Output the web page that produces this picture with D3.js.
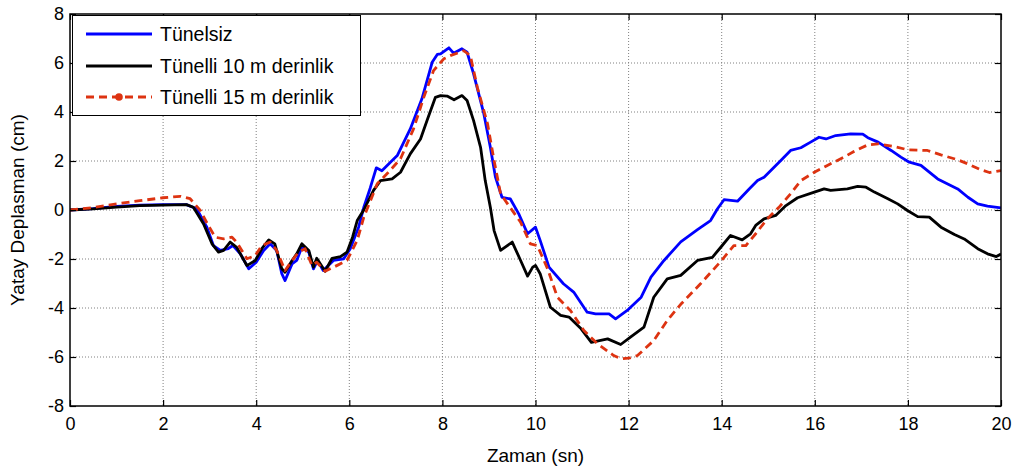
<!DOCTYPE html>
<html><head><meta charset="utf-8">
<script src="https://cdn.jsdelivr.net/npm/d3@7"></script>
<style>body{margin:0;background:#fff} svg{display:block}</style>
</head><body><svg id="c" width="1016" height="470"></svg>
<script>
const xTicks=[0,2,4,6,8,10,12,14,16,18,20];
const yTicks=[-8,-6,-4,-2,0,2,4,6,8];
const seriesNames=["Tünelsiz","Tünelli 10 m derinlik","Tünelli 15 m derinlik"];
const xLabel="Zaman (sn)";
const yLabel="Yatay Deplasman (cm)";

const tBlue=[0,0.5,1,1.5,2,2.5,2.72,2.94,3.08,3.23,3.4,3.5,3.66,3.84,4.0,4.16,4.3,4.44,4.55,4.62,4.77,4.87,4.98,5.13,5.23,5.32,5.44,5.66,5.88,6.02,6.2,6.31,6.45,6.58,6.7,7.03,7.31,7.56,7.78,7.89,7.96,8.14,8.24,8.42,8.53,8.67,8.89,9.03,9.14,9.28,9.46,9.64,9.83,10.0,10.1,10.29,10.6,10.82,11.11,11.29,11.58,11.72,11.97,12.27,12.48,12.76,13.12,13.48,13.76,13.91,14.05,14.34,14.59,14.77,14.91,15.27,15.48,15.7,15.91,16.09,16.24,16.45,16.77,17.03,17.14,17.36,17.64,17.85,18.03,18.28,18.64,19.07,19.29,19.5,19.71,20.0];
const vBlue=[0,0.06,0.15,0.2,0.22,0.22,0.05,-0.7,-1.45,-1.65,-1.58,-1.45,-1.79,-2.4,-2.13,-1.65,-1.38,-1.65,-2.6,-2.88,-2.2,-2.06,-1.52,-1.72,-2.4,-2.06,-2.47,-2.06,-1.99,-1.58,-0.7,0.1,0.9,1.72,1.6,2.22,3.31,4.54,6.03,6.35,6.37,6.62,6.4,6.58,6.44,5.56,3.93,2.56,1.34,0.52,0.45,-0.16,-0.97,-0.7,-1.24,-2.33,-3.01,-3.35,-4.17,-4.24,-4.24,-4.44,-4.1,-3.56,-2.74,-2.06,-1.3,-0.8,-0.43,0.05,0.42,0.36,0.86,1.2,1.34,2.02,2.43,2.54,2.77,2.97,2.9,3.04,3.11,3.1,2.95,2.77,2.43,2.16,1.95,1.82,1.27,0.86,0.52,0.25,0.16,0.09];

const tBlack=[0,0.5,1,1.5,2,2.5,2.65,2.87,3.05,3.19,3.3,3.44,3.58,3.8,3.98,4.12,4.27,4.4,4.55,4.62,4.77,4.87,4.98,5.13,5.23,5.3,5.48,5.63,5.81,5.95,6.07,6.17,6.31,6.52,6.67,6.92,7.1,7.31,7.53,7.67,7.85,7.96,8.1,8.25,8.42,8.53,8.67,8.82,8.92,9.03,9.11,9.25,9.5,9.68,9.83,9.94,10.0,10.1,10.32,10.54,10.72,10.98,11.2,11.55,11.83,12.04,12.33,12.54,12.83,13.12,13.48,13.8,13.98,14.19,14.44,14.62,14.73,14.91,15.16,15.38,15.63,15.99,16.2,16.34,16.7,16.92,17.1,17.28,17.57,17.78,17.99,18.21,18.46,18.71,19.0,19.21,19.5,19.71,19.9,20.0];
const vBlack=[0,0.05,0.12,0.18,0.2,0.22,0.11,-0.57,-1.38,-1.72,-1.65,-1.31,-1.52,-2.27,-2.06,-1.58,-1.22,-1.38,-2.4,-2.54,-2.06,-1.79,-1.38,-1.65,-2.33,-1.97,-2.5,-1.97,-1.9,-1.72,-1.11,-0.43,0,0.8,1.2,1.27,1.54,2.29,2.9,3.65,4.6,4.67,4.65,4.5,4.67,4.47,3.65,2.56,1.2,0.11,-0.84,-1.65,-1.31,-2.06,-2.7,-2.33,-2.26,-2.6,-3.97,-4.3,-4.37,-4.85,-5.4,-5.26,-5.49,-5.19,-4.78,-3.56,-2.81,-2.67,-2.06,-1.93,-1.52,-1.04,-1.22,-0.97,-0.63,-0.36,-0.22,0.18,0.5,0.73,0.86,0.8,0.86,0.96,0.93,0.73,0.46,0.25,-0.02,-0.27,-0.29,-0.7,-1.0,-1.18,-1.58,-1.79,-1.9,-1.8];

const tRed=[0,0.5,1,1.5,2,2.37,2.58,2.8,2.97,3.12,3.3,3.48,3.58,3.8,3.98,4.12,4.3,4.44,4.62,4.77,4.91,5.05,5.2,5.3,5.48,5.73,5.95,6.17,6.31,6.6,6.84,7.1,7.38,7.6,7.81,8.03,8.17,8.46,8.6,8.75,8.97,9.11,9.25,9.4,9.68,9.89,10.04,10.26,10.47,10.75,11.04,11.33,11.68,11.83,12.0,12.19,12.54,12.83,13.12,13.55,13.98,14.26,14.52,14.73,14.98,15.23,15.48,15.7,15.99,16.27,16.63,16.85,17.14,17.36,17.71,17.99,18.42,18.71,19.07,19.29,19.57,19.75,20.0];
const vRed=[0,0.1,0.25,0.38,0.5,0.56,0.46,-0.02,-0.63,-1.11,-1.18,-1.11,-1.31,-1.99,-1.86,-1.45,-1.31,-1.65,-2.47,-2.06,-1.72,-1.58,-2.27,-2.13,-2.5,-2.27,-2.06,-1.24,-0.3,1.07,1.54,2.09,3.31,4.6,5.69,6.17,6.3,6.5,6.3,5.01,3.52,2.02,0.66,0.25,-0.5,-1.38,-1.45,-2.4,-3.56,-4.1,-4.92,-5.46,-5.94,-6.07,-6.05,-5.94,-5.33,-4.51,-3.85,-3.0,-2.1,-1.45,-1.45,-0.97,-0.36,0.11,0.66,1.2,1.54,1.82,2.16,2.4,2.66,2.7,2.59,2.46,2.43,2.25,2.05,1.88,1.64,1.53,1.61];

const colors=["#0000ff","#000000","#dd3311"];
const series=[
  {name:seriesNames[0],t:tBlue,v:vBlue,color:colors[0],dash:null},
  {name:seriesNames[1],t:tBlack,v:vBlack,color:colors[1],dash:null},
  {name:seriesNames[2],t:tRed,v:vRed,color:colors[2],dash:"8,5"}
];

const svg=d3.select("#c");
const L=70,R=1001,T=14,B=406;
const x=d3.scaleLinear().domain([0,20]).range([L,R]);
const y=d3.scaleLinear().domain([-8,8]).range([B,T]);
const font="'Liberation Sans', Arial, sans-serif";
const fmt=d=>String(d);

svg.append("rect").attr("x",L).attr("y",T).attr("width",R-L).attr("height",B-T).attr("fill","#fff");

// grid
const g=svg.append("g");
g.selectAll("line.vx").data(xTicks.slice(1,-1)).join("line")
  .attr("x1",d=>x(d)).attr("x2",d=>x(d)).attr("y1",T).attr("y2",B)
  .attr("stroke","#808080").attr("stroke-width",1).attr("stroke-dasharray","1,2");
g.selectAll("line.hy").data(yTicks.slice(1,-1)).join("line")
  .attr("y1",d=>y(d)).attr("y2",d=>y(d)).attr("x1",L).attr("x2",R)
  .attr("stroke","#808080").attr("stroke-width",1).attr("stroke-dasharray","1,2");

svg.append("clipPath").attr("id","clip").append("rect").attr("x",L).attr("y",T).attr("width",R-L).attr("height",B-T);

const line=d3.line().x(d=>x(d[0])).y(d=>y(d[1]));
const lg=svg.append("g").attr("clip-path","url(#clip)");
series.forEach(s=>{
  const pts=s.t.map((t,i)=>[t,s.v[i]]);
  lg.append("path").datum(pts).attr("d",line).attr("fill","none")
    .attr("stroke",s.color).attr("stroke-width",2.8).attr("stroke-linejoin","round")
    .attr("stroke-dasharray",s.dash);
});

// axes
const ax=svg.append("g").attr("font-family",font);
const axB=ax.append("g").attr("transform",`translate(0,${B})`)
  .call(d3.axisBottom(x).tickValues(xTicks).tickSize(-6).tickPadding(11).tickFormat(fmt));
const axT=ax.append("g").attr("transform",`translate(0,${T})`)
  .call(d3.axisTop(x).tickValues(xTicks).tickSize(-6).tickFormat(""));
const axL=ax.append("g").attr("transform",`translate(${L},0)`)
  .call(d3.axisLeft(y).tickValues(yTicks).tickSize(-6).tickPadding(6).tickFormat(fmt));
const axR=ax.append("g").attr("transform",`translate(${R},0)`)
  .call(d3.axisRight(y).tickValues(yTicks).tickSize(-6).tickFormat(""));
[axB,axT,axL,axR].forEach(a=>{
  a.selectAll(".domain").remove();
  a.selectAll(".tick line").attr("stroke","#000").attr("stroke-width",1.2);
  a.selectAll("text").attr("font-size",18).attr("font-family",font).attr("fill","#000");
});
svg.append("rect").attr("x",L).attr("y",T).attr("width",R-L).attr("height",B-T)
  .attr("fill","none").attr("stroke","#000").attr("stroke-width",1.5);

svg.append("text").attr("x",(L+R)/2).attr("y",462).attr("text-anchor","middle")
  .attr("font-family",font).attr("font-size",19).text(xLabel);
svg.append("text").attr("transform",`translate(24,${(T+B)/2}) rotate(-90)`).attr("text-anchor","middle")
  .attr("font-family",font).attr("font-size",19).text(yLabel);

// legend
const leg=svg.append("g");
leg.append("rect").attr("x",72.5).attr("y",15.5).attr("width",288).attr("height",100)
  .attr("fill","#fff").attr("stroke","#000").attr("stroke-width",1);
const rowY=[34,66,97];
series.forEach((s,i)=>{
  leg.append("line").attr("x1",86).attr("x2",152).attr("y1",rowY[i]).attr("y2",rowY[i])
    .attr("stroke",s.color).attr("stroke-width",2.8).attr("stroke-dasharray",s.dash);
  if(i===2) leg.append("circle").attr("cx",119).attr("cy",rowY[i]).attr("r",3.8).attr("fill",s.color);
  leg.append("text").attr("x",160).attr("y",rowY[i]+7).attr("font-family",font)
    .attr("font-size",19.5).text(s.name);
});
</script></body></html>
